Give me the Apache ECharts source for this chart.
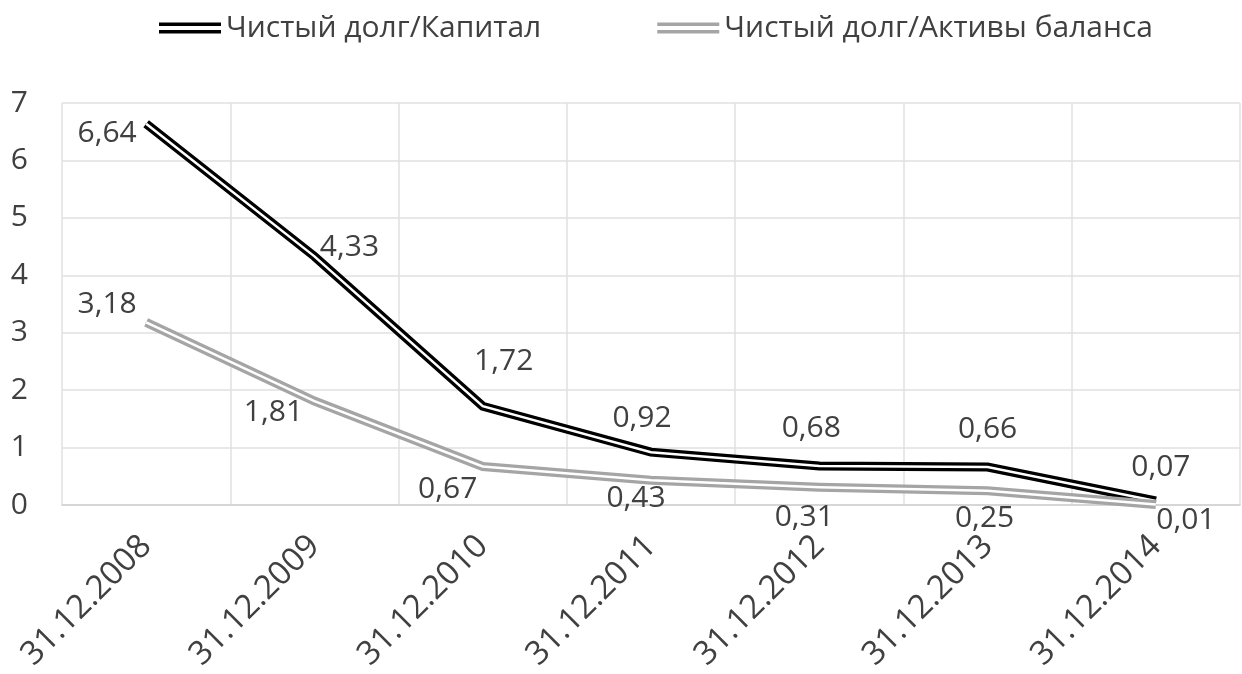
<!DOCTYPE html>
<html>
<head>
<meta charset="utf-8">
<script src="https://cdn.jsdelivr.net/npm/echarts@6/dist/echarts.min.js"></script>
<style>
  html, body { margin: 0; padding: 0; background: #fff; }
  #chart { width: 1242px; height: 674px; }
</style>
</head>
<body>
<div id="chart"></div>
<script>
// Year-end dates
const categories = ['31.12.2008', '31.12.2009', '31.12.2010', '31.12.2011', '31.12.2012', '31.12.2013', '31.12.2014'];
// Net debt / Equity
const debtToEquity = [6.64, 4.33, 1.72, 0.92, 0.68, 0.66, 0.07];
// Net debt / Total assets
const debtToAssets = [3.18, 1.81, 0.67, 0.43, 0.31, 0.25, 0.01];
const seriesNames = ['Чистый долг/Капитал', 'Чистый долг/Активы баланса'];
const yTicks = { min: 0, max: 7, interval: 1 };

// Label placement around each point (pixel offsets from the point)
const labelOffsets1 = [[-39, 10], [35, -9], [21, -45], [-9, -34], [-8, -37], [0, -38], [5, -34]];
const labelOffsets2 = [[-39, -18], [-41, 11], [-35, 23], [-15, 18], [-15, 30], [-3, 28], [30, 16]];

const FONT = '"Open Sans", "DejaVu Sans", sans-serif';
const TEXT = '#404040';
const BLACK = '#000000';
const GREY = '#a5a5a5';

const fmt = v => v.toFixed(2).replace('.', ',');

function withLabels(values, offsets) {
  return values.map((v, i) => ({
    value: v,
    label: { offset: offsets[i] }
  }));
}

// Double ("compound") stroke: a thick coloured line with a thin white core
function outerLine(name, values, offsets, color, z) {
  return {
    name: name,
    type: 'line',
    data: withLabels(values, offsets),
    symbol: 'circle',
    symbolSize: 1,
    itemStyle: { color: color },
    lineStyle: { color: color, width: 9, join: 'miter', cap: 'butt' },
    z: z,
    label: {
      show: true,
      position: 'inside',
      color: TEXT,
      fontFamily: FONT,
      fontSize: 30,
      formatter: p => fmt(p.value)
    },
    emphasis: { disabled: true },
    animation: false
  };
}

function innerLine(id, values, z) {
  return {
    id: id,
    type: 'line',
    data: values,
    symbol: 'none',
    silent: true,
    lineStyle: { color: '#ffffff', width: 2.5, join: 'miter', cap: 'butt' },
    z: z,
    emphasis: { disabled: true },
    animation: false
  };
}

const chart = echarts.init(document.getElementById('chart'), null, { renderer: 'canvas' });

chart.setOption({
  backgroundColor: '#ffffff',
  animation: false,
  legend: {
    data: [
      { name: seriesNames[0], itemStyle: { color: BLACK } },
      { name: seriesNames[1], itemStyle: { color: GREY } }
    ],
    top: 8,
    left: 154,
    icon: 'path://M0,0H62V3.5H0Z M0,7.5H62V11H0Z',
    itemWidth: 62,
    itemHeight: 11,
    itemGap: 116,
    textStyle: { color: TEXT, fontFamily: FONT, fontSize: 30 },
    selectedMode: false
  },
  grid: { left: 62, right: 2, top: 103, bottom: 169, containLabel: false },
  xAxis: {
    type: 'category',
    data: categories,
    boundaryGap: true,
    axisLine: { show: true, lineStyle: { color: '#d0d0d0', width: 1.5 } },
    axisTick: { show: false },
    splitLine: { show: true, lineStyle: { color: '#e0e0e0', width: 1.5 } },
    axisLabel: {
      rotate: 45,
      margin: 36,
      color: TEXT,
      fontFamily: FONT,
      fontSize: 33,
      interval: 0
    }
  },
  yAxis: {
    type: 'value',
    min: yTicks.min,
    max: yTicks.max,
    interval: yTicks.interval,
    axisLine: { show: false },
    axisTick: { show: false },
    splitLine: { show: true, lineStyle: { color: '#e0e0e0', width: 1.5 } },
    axisLabel: { margin: 34, color: TEXT, fontFamily: FONT, fontSize: 30 }
  },
  series: [
    outerLine(seriesNames[0], debtToEquity, labelOffsets1, BLACK, 2),
    innerLine('core-equity', debtToEquity, 3),
    outerLine(seriesNames[1], debtToAssets, labelOffsets2, GREY, 4),
    innerLine('core-assets', debtToAssets, 5)
  ]
});
</script>
</body>
</html>
